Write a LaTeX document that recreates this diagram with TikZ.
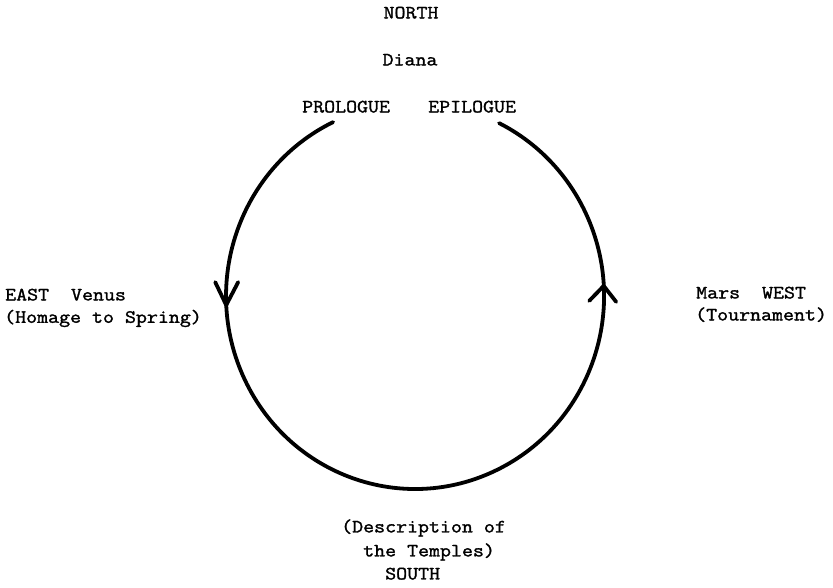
\documentclass[tikz,border=0pt]{standalone}
\usepackage{fontspec}
\newfontfamily\typew{Latin Modern Mono}[FakeBold=1.6, FakeStretch=1.14]
\tikzset{
  lbl/.style={font=\typew\fontsize{18.7}{22}\selectfont, inner sep=0pt, anchor=base west, text=black},
  ring/.style={line width=3.8pt, line cap=round, line join=round, draw=black},
}
\begin{document}
\begin{tikzpicture}[x=1pt,y=1pt]
\useasboundingbox (0,0) rectangle (833,587);
% labels
\node[lbl, anchor=base] (north) at (411,568.6) {NORTH};
\node[lbl, anchor=base] (diana) at (410,521.6) {Diana};
\node[lbl] (prologue) at (302,474.6) {PROLOGUE};
\node[lbl] (epilogue) at (428,474.6) {EPILOGUE};
\node[lbl] (east) at (5,286.6) {EAST\ \ Venus};
\node[lbl] (homage) at (4,264.2) {(Homage to Spring)};
\node[lbl] (west) at (696,288.6) {Mars\ \ WEST};
\node[lbl] (tourn) at (695,266.6) {(Tournament)};
\node[lbl] (desc) at (341,54.6) {(Description of};
\node[lbl] (temples) at (363,30.6) {the Temples)};
\node[lbl] (south) at (385,7.6) {SOUTH};
% cycle
\coordinate (C) at (415,291);
\coordinate (startL) at (333.1,464.9);
\coordinate (tipL) at (226.2,281.9);
\coordinate (tipR) at (603.7,301.1);
\draw[ring] (startL) arc[start angle=115.7, end angle=423.6, x radius=189pt, y radius=193pt] coordinate (endR);
% arrowheads
\draw[ring] (tipL) ++(-11,23) -- (tipL) -- ++(12,23);
\draw[ring] (tipR) ++(-14.5,-15) -- (tipR) -- ++(12.5,-16);
\end{tikzpicture}
\end{document}
